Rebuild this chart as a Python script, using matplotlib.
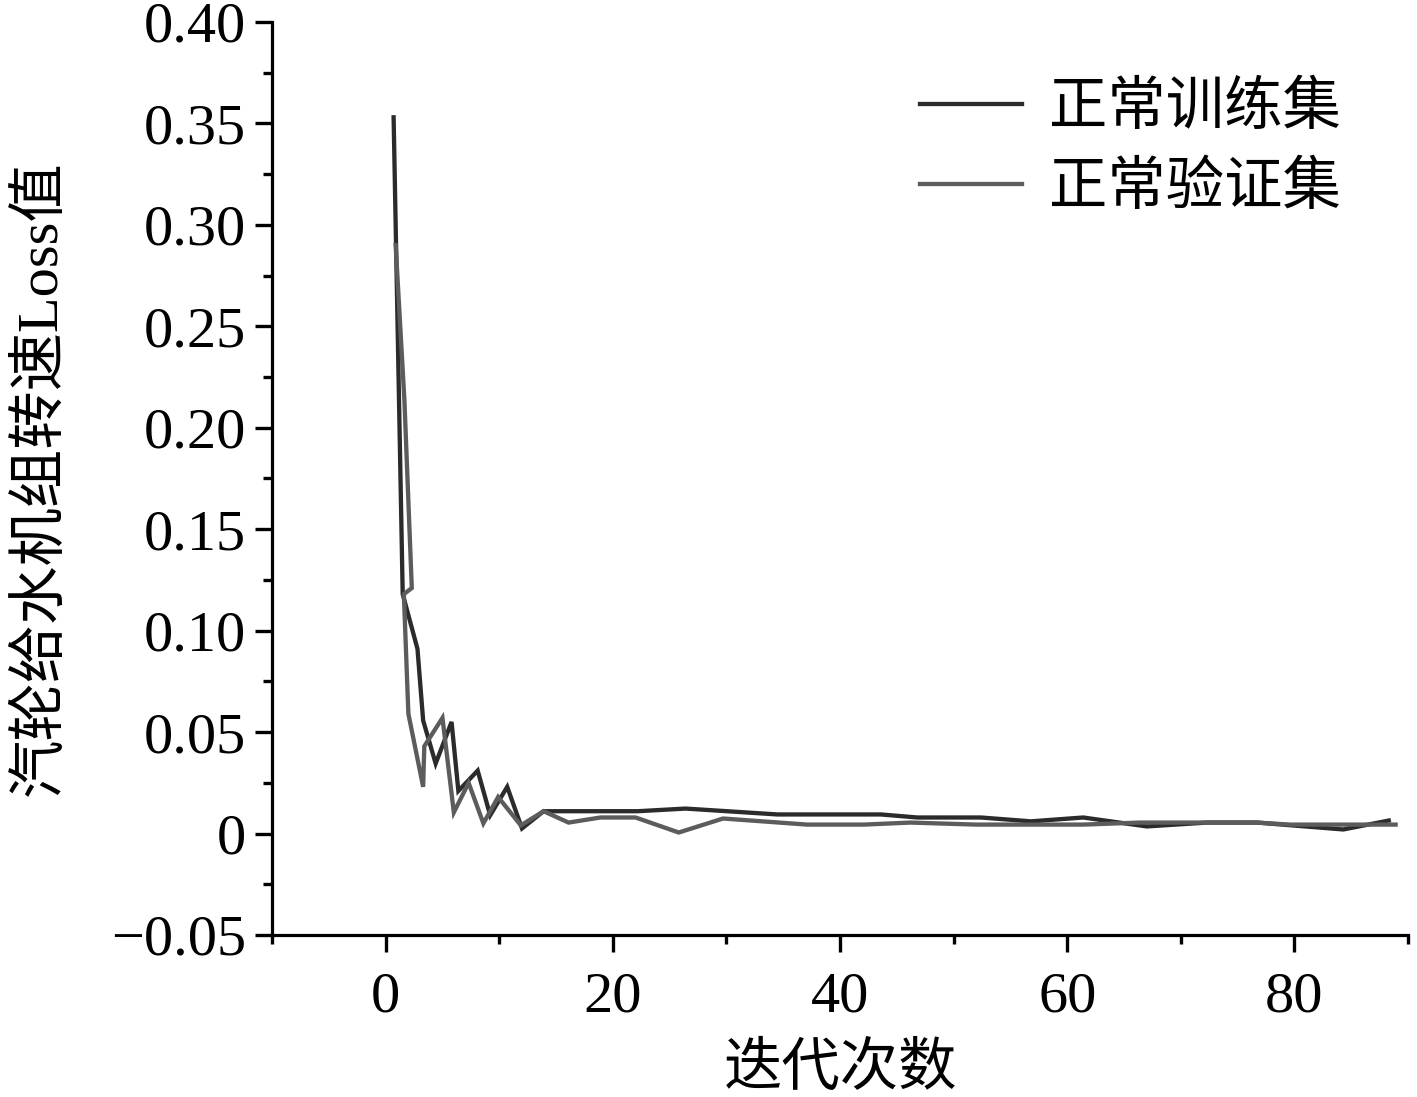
import matplotlib
matplotlib.use("Agg")
import matplotlib.pyplot as plt
from matplotlib.ticker import MultipleLocator, FuncFormatter

plt.rcParams['font.family'] = ['Liberation Serif', 'Noto Sans CJK SC', 'DejaVu Sans']
plt.rcParams['axes.unicode_minus'] = True

# Data
train_x = [0.7, 1.5, 2.8, 3.3, 4.4, 5.8, 6.4, 8.1, 9.2, 10.7, 12.0, 13.9,
           22.2, 26.4, 34.5, 43.6, 46.8, 52.4, 56.8, 61.4, 67.0, 72.3, 76.7, 84.3, 88.3]
train_y = [0.353, 0.118, 0.091, 0.0557, 0.0345, 0.055, 0.021, 0.031, 0.009, 0.023, 0.0025, 0.011,
           0.011, 0.0123, 0.0094, 0.0094, 0.0079, 0.0079, 0.006, 0.0079, 0.0035, 0.0054, 0.0054, 0.002, 0.0064]

val_x = [0.88, 1.65, 2.3, 1.6, 2.0, 3.3, 3.4, 5.0, 6.0, 7.3, 8.6, 9.9, 11.9, 13.9,
         16.1, 18.9, 22.0, 25.8, 29.7, 37.1, 42.1, 46.2, 52.0, 61.4, 66.4, 76.7, 79.6, 88.9]
val_y = [0.29, 0.2135, 0.121, 0.118, 0.059, 0.023, 0.043, 0.057, 0.0104, 0.025, 0.005, 0.018, 0.004, 0.011,
         0.0054, 0.0079, 0.0079, 0.0005, 0.0074, 0.0044, 0.0044, 0.0054, 0.0044, 0.0044, 0.0054, 0.0054, 0.0044, 0.0044]

labels = ['正常训练集', '正常验证集']
x_label = '迭代次数'
y_label = '汽轮给水机组转速Loss值'

fig = plt.figure(figsize=(14.17, 10.97), dpi=100)
ax = fig.add_axes([0.192, 0.1477, 0.8017, 0.8323])

ax.plot(train_x, train_y, color='#2b2b2b', lw=3.1, label=labels[0], solid_joinstyle='miter')
ax.plot(val_x, val_y, color='#5c5c5c', lw=3.1, label=labels[1], solid_joinstyle='miter')

ax.set_xlim(-10, 90)
ax.set_ylim(-0.05, 0.40)
ax.spines['top'].set_visible(False)
ax.spines['right'].set_visible(False)
for s in ('left', 'bottom'):
    ax.spines[s].set_linewidth(2.3)

ax.xaxis.set_major_locator(MultipleLocator(20))
ax.xaxis.set_minor_locator(MultipleLocator(10))
ax.yaxis.set_major_locator(MultipleLocator(0.05))
ax.yaxis.set_minor_locator(MultipleLocator(0.025))

def yfmt(v, pos):
    if abs(v) < 1e-9:
        return '0'
    s = f'{v:.2f}'
    return s.replace('-', '\u2212')

ax.yaxis.set_major_formatter(FuncFormatter(yfmt))
ax.xaxis.set_major_formatter(FuncFormatter(lambda v, p: f'{v:.0f}'))

ax.tick_params(which='major', direction='out', length=12.5, width=2.4, labelsize=42, pad=6)
ax.tick_params(which='minor', direction='out', length=6.5, width=2.4)
ax.tick_params(axis='x', which='major', pad=14)

ax.set_xlabel(x_label, fontsize=42)
ax.set_ylabel(y_label, fontsize=42)
ax.yaxis.set_label_coords(-0.18, 0.5)
ax.xaxis.set_label_coords(0.5, -0.118)

ax.legend(loc='upper right', bbox_to_anchor=(0.983, 0.973), bbox_transform=fig.transFigure,
          frameon=False, fontsize=42, handlelength=1.75, handletextpad=0.45, labelspacing=0.43)

fig.savefig('out.png', dpi=100)
